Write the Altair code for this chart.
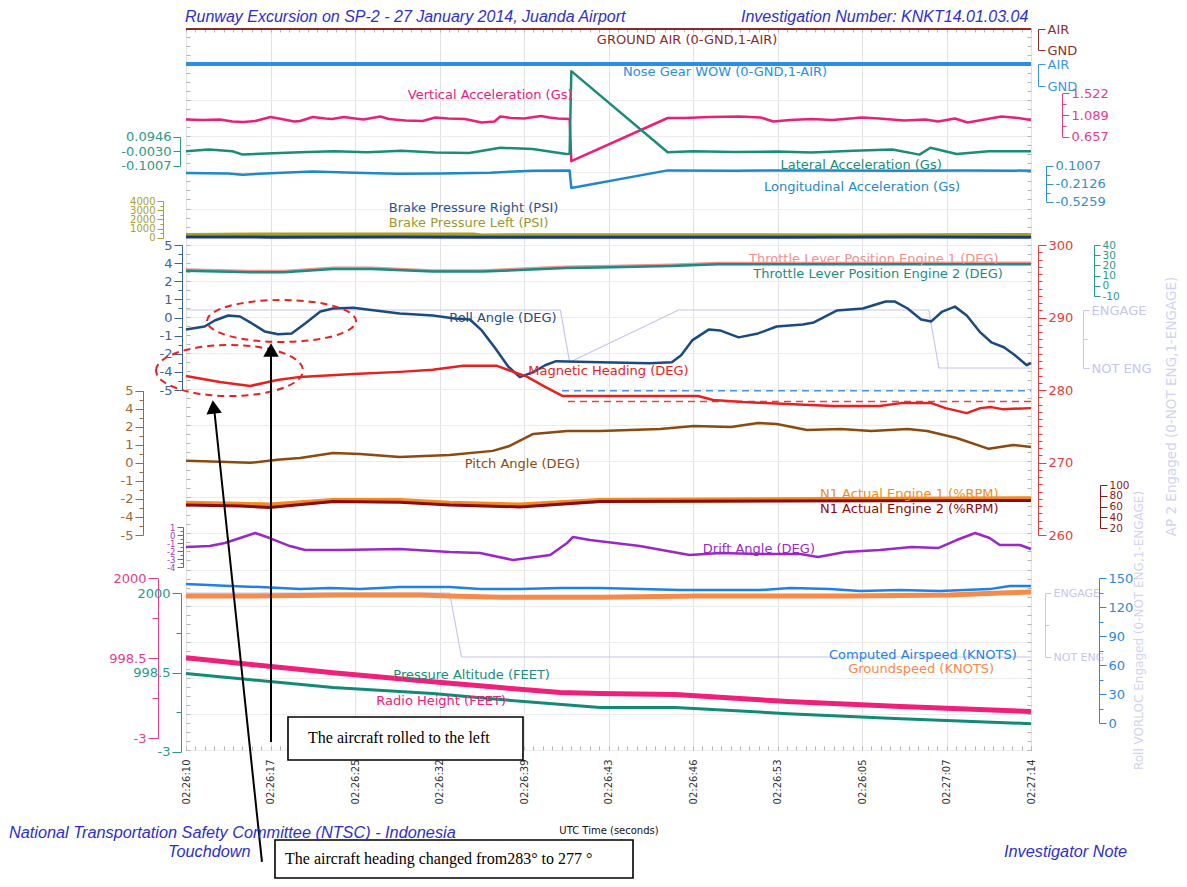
import altair as alt
import pandas as pd

FONT = "DejaVu Sans"
SERIF = "Liberation Serif"
SANS = "Liberation Sans"

# ---------------- data (time in tick-interval units: 0 .. 10) ----------------
time_labels = ["02:26:10", "02:26:17", "02:26:25", "02:26:32", "02:26:39",
               "02:26:43", "02:26:46", "02:26:53", "02:26:05", "02:27:07", "02:27:14"]

ga_t = [0, 10]
ga_v = [1, 1]
wow_t = [0, 10]
wow_v = [1, 1]

va_t = [0, 0.2, 0.4, 0.55, 0.68, 0.82, 1.0, 1.1, 1.28, 1.35, 1.5, 1.65, 1.73, 1.87, 2.0, 2.1, 2.3, 2.4,
        2.6, 2.8, 2.95, 3.1, 3.3, 3.5, 3.65, 3.72, 3.85, 4.0, 4.2, 4.3, 4.4, 4.54, 4.56, 5.70, 5.9, 6.2,
        6.55, 6.8, 6.95, 7.15, 7.4, 7.65, 8.0, 8.2, 8.5, 8.75, 8.9, 9.1, 9.25, 9.45, 9.65, 9.85, 10]
va_v = [1.00, 0.99, 1.00, 0.96, 0.95, 0.97, 1.05, 1.02, 0.96, 0.97, 1.05, 1.02, 1.01, 1.05, 1.02, 1.00,
        1.06, 1.01, 0.98, 0.97, 1.04, 1.02, 1.01, 0.94, 0.96, 1.06, 1.03, 1.02, 1.07, 1.04, 1.02, 1.01,
        0.17, 1.03, 1.03, 1.05, 1.06, 1.04, 0.96, 0.99, 1.01, 0.99, 1.04, 1.02, 0.98, 1.00, 0.96, 1.02,
        0.94, 1.00, 1.06, 1.03, 0.99]

la_t = [0, 0.27, 0.55, 0.67, 0.95, 1.35, 1.75, 2.15, 2.55, 2.95, 3.35, 3.72, 4.1, 4.5, 4.54, 4.56,
        5.70, 6.0, 6.5, 7.0, 7.4, 7.9, 8.36, 8.68, 8.81, 9.12, 9.5, 10]
la_v = [-0.003, 0.009, -0.003, -0.026, -0.018, -0.010, -0.003, -0.010, 0.000, -0.012, -0.015, 0.020,
        0.012, -0.022, -0.020, 0.536, -0.010, -0.003, -0.008, -0.005, -0.012, 0.000, 0.009, -0.026,
        0.020, -0.022, -0.003, -0.003]

lo_t = [0, 0.5, 0.67, 1.0, 1.5, 2.0, 2.5, 3.0, 3.6, 4.1, 4.54, 4.56, 5.70, 6.5, 7.5, 8.5, 9.2, 10]
lo_v = [-0.026, -0.035, -0.056, -0.030, 0.000, -0.020, -0.039, -0.035, -0.020, 0.014, 0.016, -0.287,
        0.019, 0.014, 0.019, 0.012, 0.019, 0.014]

br_t = [0, 1.0, 2.5, 3.5, 5.0, 7.0, 8.5, 10]
br_v = [80, 60, 80, 40, 60, 50, 80, 60]
bl_t = [0, 1.0, 3.4, 3.5, 6.0, 8.0, 9.5, 10]
bl_v = [300, 350, 350, 250, 280, 250, 300, 300]

tl_t = [0, 0.76, 1.16, 1.74, 2.2, 2.92, 3.51, 4.5, 4.89, 5.74, 6.3, 10]
tl1_v = [16.0, 14.5, 14.5, 17.6, 17.6, 15.1, 15.1, 18.6, 19.2, 20.7, 22.4, 22.7]
tl2_v = [14.8, 13.3, 13.3, 16.4, 16.4, 13.9, 13.9, 17.4, 18.0, 19.5, 21.1, 21.1]

roll_t = [0, 0.22, 0.34, 0.50, 0.64, 0.78, 0.93, 1.09, 1.25, 1.41, 1.59, 1.74, 1.98, 2.24, 2.53, 2.92,
          3.18, 3.36, 3.50, 3.66, 3.81, 3.95, 4.11, 4.25, 4.38, 4.90, 5.49, 5.75, 5.86, 5.99, 6.19, 6.32,
          6.54, 6.77, 6.99, 7.30, 7.43, 7.70, 8.01, 8.28, 8.39, 8.54, 8.70, 8.82, 8.95, 9.10, 9.24, 9.40,
          9.53, 9.68, 9.81, 9.95, 10]
roll_v = [-0.82, -0.62, -0.21, 0.14, 0.07, -0.41, -0.96, -1.16, -1.10, -0.41, 0.41, 0.62, 0.68, 0.48,
          0.27, 0.14, -0.07, -0.14, -0.89, -2.12, -3.36, -4.11, -3.77, -3.29, -3.01, -3.08, -3.15, -3.08,
          -2.60, -1.58, -0.82, -0.89, -1.37, -1.10, -0.62, -0.48, -0.34, 0.48, 0.62, 1.10, 1.10, 0.62,
          -0.14, -0.27, 0.41, 0.75, 0.14, -1.03, -1.71, -2.05, -2.60, -3.29, -3.15]

ap2_t = [0, 4.43, 4.54, 5.83, 8.79, 8.91, 10]
ap2_v = [1, 1, 0.1, 1, 1, 0, 0]

hd_t = [0, 0.40, 0.76, 1.08, 1.35, 1.98, 2.53, 2.92, 3.28, 3.68, 4.04, 4.25, 4.46, 4.90, 6.06, 6.24,
        6.59, 6.85, 7.66, 8.21, 8.46, 8.82, 8.99, 9.24, 9.40, 9.53, 9.66, 10]
hd_v = [281.94, 281.11, 280.56, 281.39, 281.81, 282.22, 282.50, 282.78, 283.33, 283.33, 281.81, 280.42,
        279.17, 279.17, 279.17, 278.61, 278.33, 278.19, 277.78, 277.78, 278.19, 278.19, 277.50, 276.81,
        277.50, 277.64, 277.36, 277.50]
hdb_t = [4.45, 10]
hdb_v = [279.9, 279.9]
hdr_t = [4.52, 10]
hdr_v = [278.4, 278.4]

pt_t = [0, 0.40, 0.76, 1.08, 1.35, 1.74, 2.06, 2.53, 3.12, 3.63, 3.83, 4.11, 4.51, 4.90, 5.61, 6.01,
        6.45, 6.77, 6.99, 7.35, 7.75, 8.11, 8.54, 8.77, 9.12, 9.50, 9.79, 10]
pt_v = [0.14, 0.07, 0.00, 0.21, 0.34, 0.69, 0.62, 0.41, 0.55, 0.83, 1.17, 2.00, 2.21, 2.21, 2.34, 2.55,
        2.48, 2.76, 2.69, 2.28, 2.34, 2.21, 2.34, 2.21, 1.72, 0.97, 1.24, 1.10]

n1_t = [0, 0.64, 0.99, 1.74, 2.53, 3.12, 3.95, 4.90, 10]
n1e1_v = [66.0, 64.3, 62.6, 71.1, 71.1, 66.0, 62.6, 71.1, 74.5]
n1e2_v = [62.6, 60.9, 58.3, 69.4, 67.7, 62.6, 59.2, 69.4, 71.1]

dr_t = [0, 0.28, 0.46, 0.64, 0.82, 0.99, 1.23, 1.41, 1.82, 2.53, 3.12, 3.48, 3.87, 4.31, 4.51, 4.58,
        4.78, 5.37, 5.96, 6.32, 6.79, 7.27, 7.48, 7.80, 8.21, 8.59, 8.90, 9.12, 9.34, 9.51, 9.63, 9.87, 10]
dr_v = [-1.50, -1.38, -1.00, -0.38, 0.25, -0.38, -1.38, -1.88, -1.88, -1.75, -2.13, -2.25, -3.13, -2.50,
        -1.00, -0.25, -0.63, -1.38, -2.50, -2.25, -2.38, -2.38, -2.75, -2.13, -1.88, -1.50, -1.63, -0.63,
        0.25, -0.38, -1.25, -1.25, -1.75]

vor_t = [0, 3.12, 3.26, 10]
vor_v = [1, 1, 0, 0]

cas_t = [0, 0.52, 0.88, 1.35, 1.70, 2.06, 2.53, 3.12, 3.48, 3.95, 4.43, 4.90, 5.85, 6.79, 7.15, 7.62,
         7.98, 8.45, 8.92, 9.51, 9.75, 10]
cas_v = [143.8, 141.7, 140.6, 138.5, 139.6, 138.5, 140.6, 140.6, 138.5, 138.5, 139.6, 139.6, 137.5,
         137.5, 139.6, 138.5, 136.5, 137.5, 136.5, 138.5, 141.7, 141.7]
gs_t = [0, 0.76, 1.82, 2.77, 3.12, 3.72, 4.90, 6.08, 7.27, 7.86, 9.04, 9.63, 10]
gs_v = [131.3, 131.3, 132.3, 132.3, 131.3, 130.2, 130.2, 131.3, 131.3, 131.3, 132.3, 134.4, 135.4]

rh_t = [0, 1.74, 2.92, 3.72, 4.43, 4.90, 5.79, 7.12, 8.46, 10]
rh_v = [1004.8, 818.2, 706.2, 631.6, 569.4, 556.9, 544.5, 457.4, 395.2, 333.0]
pa_t = [0, 1.74, 2.92, 3.72, 4.90, 5.79, 7.12, 8.46, 10]
pa_v = [985.6, 808.1, 732.0, 655.9, 554.5, 554.5, 478.4, 415.0, 351.6]

# series labels: text, time, value (in the series' own units)
lab_text = ["GROUND AIR (0-GND,1-AIR)", "Nose Gear WOW (0-GND,1-AIR)", "Vertical Acceleration (Gs)",
            "Lateral Acceleration (Gs)", "Longitudinal Acceleration (Gs)",
            "Throttle Lever Position Engine 1 (DEG)", "Throttle Lever Position Engine 2 (DEG)",
            "Roll Angle (DEG)", "Magnetic Heading (DEG)", "Pitch Angle (DEG)",
            "N1 Actual Engine 1 (%RPM)", "N1 Actual Engine 2 (%RPM)", "Drift Angle (DEG)",
            "Computed Airspeed (KNOTS)", "Groundspeed (KNOTS)", "Pressure Altitude (FEET)",
            "Radio Height (FEET)"]
lab_t = [5.93, 6.38, 3.60, 7.99, 8.0, 8.14, 8.19, 3.75, 5.0, 3.98, 8.56, 8.56, 6.78, 8.72, 8.70, 3.38, 3.02]
lab_v = [0.476, 0.636, 1.488, -0.096, -0.270, 26.3, 11.6, 0.0, 282.6, -0.08, 83.3, 55.3, -1.75,
         70.3, 55.9, 966.9, 464.0]
brake_text = ["Brake Pressure Right (PSI)", "Brake Pressure Left (PSI)"]
brake_t = [2.40, 2.40]
brake_v = [3237, 1602]

# annotations (time units, heading/roll units)
box_t1 = [1.207, 1.053]
box_t2 = [3.988, 5.290]
box_v1 = [234.90, 217.93]
box_v2 = [228.97, 212.69]
note_text = ["The aircraft rolled to the left", "The aircraft heading changed from283\u00b0 to 277 \u00b0"]
note_t = [1.444, 1.172]
note_v = [232.0, 215.3]
arrow_t1 = [0.337, 1.006]
arrow_t2 = [0.899, 1.006]
arrow_v1 = [276.97, 284.69]
arrow_v2 = [214.90, 231.45]
head_t = [0.325, 1.006]
head_v = [277.66, 285.52]
ell_roll_t, ell_roll_v = [1.130], [-0.24]
ell_hd_t, ell_hd_v = [0.515], [282.69]


# ---------------- helpers ----------------
def X(field="t"):
    return alt.X(f"{field}:Q", scale=alt.Scale(domain=[0, 10], nice=False, zero=False), axis=None)


def S(domain, rng):
    return alt.Scale(domain=domain, range=rng, nice=False, zero=False)


def vaxis(orient, offset, values, color, expr, size=13, major=7, minor_test=None, minor=4, **extra):
    kw = dict(orient=orient, offset=offset, values=values, domainColor=color, tickColor=color,
              labelColor=color, labelFont=FONT, labelFontSize=size, labelPadding=2,
              labelOverlap=False, labelFlush=False, labelBound=False, labelExpr=expr,
              grid=False, title=None, domainWidth=1, tickWidth=1, tickSize=major)
    if minor_test is not None:
        kw["tickSize"] = {"condition": {"test": minor_test, "value": major}, "value": minor}
    kw.update(extra)
    return alt.Axis(**kw)


def line(t, v, color, width, scale, axis=None, dash=None):
    props = dict(color=color, strokeWidth=width, clip=False, strokeJoin="round", opacity=1)
    if dash is not None:
        props["strokeDash"] = dash
    return alt.Chart(pd.DataFrame({"t": t, "v": v})).mark_line(**props).encode(
        x=X(), y=alt.Y("v:Q", scale=scale, axis=axis))


def label(txt, t, v, color, scale, size=13, align="center"):
    return alt.Chart(pd.DataFrame({"t": [t], "v": [v], "s": [txt]})).mark_text(
        color=color, font=FONT, fontSize=size, align=align, baseline="middle", clip=False).encode(
        x=X(), y=alt.Y("v:Q", scale=scale, axis=None), text="s:N")


def page_text(txt, px, py, size, color, align="left", baseline="middle"):
    return alt.Chart(pd.DataFrame({"s": [txt]})).mark_text(
        font=SANS, fontSize=size, fontStyle="italic", color=color, align=align,
        baseline=baseline, clip=False).encode(x=alt.value(px - 186), y=alt.value(py - 28), text="s:N")


# ---------------- scales (domain -> pixel band inside the 845x722 plot) ----------------
s_ga = S([0, 1], [22, 1])
s_wow = S([0, 1], [58, 36])
s_va = S([0.657, 1.522], [108.7, 65.3])
s_la = S([-0.1007, 0.0946], [137.7, 108.7])
s_lo = S([-0.5259, 0.1007], [173.7, 137.7])
s_br = S([0, 4000], [209.7, 173])
s_tl = S([-10, 40], [268, 217])
s_roll = S([-5, 5], [362, 217])
s_ap2 = S([0, 1], [340, 282])
s_hd = S([260, 300], [507, 217])
s_pt = S([-5, 5], [507, 362.7])
s_n1 = S([20, 100], [500, 457])
s_dr = S([-4, 1], [539, 499])
s_vor = S([0, 1], [629, 565])
s_cas = S([0, 150], [695, 550])
s_rh = S([-3, 2000], [710.3, 550.3])
s_pa = S([-3, 2000], [723.7, 565.3])

LAV = "#c6c6ee"
roll_vals = [-5 + 0.625 * i for i in range(17)]
roll_major = "abs(datum.value/1.25 - round(datum.value/1.25)) < 0.01"
roll_expr = ("abs(datum.value/1.25 - round(datum.value/1.25)) > 0.01 ? '' : "
             "(datum.value == 2.5 ? '2' : '' + round(datum.value))")
alt_vals = [-3, 497.75, 998.5, 1499.25, 2000]
alt_major = "indexof([-3, 998.5, 2000], datum.value) >= 0"
alt_expr = "indexof([-3, 998.5, 2000], datum.value) >= 0 ? '' + datum.value : ''"

# ---------------- decoration: grid + border ticks + time axis ----------------
one = pd.DataFrame({"t": [0], "v": [0]})
labels_js = "[" + ",".join(f"'{s}'" for s in time_labels) + "]"
grid = alt.Chart(one).mark_point(opacity=0).encode(
    x=alt.X("t:Q", scale=alt.Scale(domain=[0, 10], nice=False, zero=False),
            axis=alt.Axis(values=list(range(11)), labelExpr=labels_js + "[datum.value]", labelAngle=270,
                          labelFont=FONT, labelFontSize=10, labelColor="#333333", labelPadding=9,
                          grid=True, gridColor="#e2e2e2", ticks=False, domain=False,
                          title="UTC Time (seconds)", titleFont=FONT, titleFontSize=10,
                          titleFontWeight="normal", titleColor="#111111", titleY=80,
                          titleBaseline="middle")),
    y=alt.Y("v:Q", scale=alt.Scale(domain=[0, 20], range=[722, 0], nice=False, zero=False),
            axis=alt.Axis(values=list(range(21)), grid=True, gridColor="#ececec", labels=False,
                          ticks=False, domain=False, title=None)))

border1 = alt.Chart(one).mark_point(opacity=0).encode(
    x=alt.X("t:Q", scale=alt.Scale(domain=[0, 90], nice=False, zero=False),
            axis=alt.Axis(orient="top", offset=-722, values=list(range(91)), labels=False, domain=False,
                          tickColor="#b4b4b4", tickSize=4, grid=False, title=None)),
    y=alt.Y("v:Q", scale=alt.Scale(domain=[0, 80], range=[722, 0], nice=False, zero=False),
            axis=alt.Axis(orient="right", offset=-845, values=list(range(81)), labels=False,
                          domain=False, tickColor="#b4b4b4", tickSize=4, grid=False, title=None)))
border2 = alt.Chart(one).mark_point(opacity=0).encode(
    x=alt.X("t:Q", scale=alt.Scale(domain=[0, 90], nice=False, zero=False),
            axis=alt.Axis(orient="bottom", offset=-722, values=list(range(91)), labels=False,
                          domain=False, tickColor="#b4b4b4", tickSize=4, grid=False, title=None)),
    y=alt.Y("v:Q", scale=alt.Scale(domain=[0, 80], range=[722, 0], nice=False, zero=False),
            axis=alt.Axis(orient="left", offset=-845, values=list(range(81)), labels=False,
                          domain=False, tickColor="#b4b4b4", tickSize=4, grid=False, title=None)))

# ---------------- series ----------------
series = [
    line(ga_t, ga_v, "#8b2a2a", 2, s_ga,
         vaxis("right", 7, [0, 1], "#8b3030", "datum.value == 1 ? 'AIR' : 'GND'")),
    line(wow_t, wow_v, "#2a8ee6", 4, s_wow,
         vaxis("right", 7, [0, 1], "#3a96e6", "datum.value == 1 ? 'AIR' : 'GND'")),
    line(va_t, va_v, "#e8207a", 2.5, s_va,
         vaxis("right", 31, [0.657, 0.873, 1.089, 1.3055, 1.522], "#e0408a",
               "indexof([0.657, 1.089, 1.522], datum.value) >= 0 ? format(datum.value, '.3f') : ''",
               minor_test="indexof([0.657, 1.089, 1.522], datum.value) >= 0")),
    line(la_t, la_v, "#1a8c78", 2.5, s_la,
         vaxis("left", 6, [-0.1007, -0.003, 0.0946], "#2a9a88",
               "(datum.value < 0 ? '-' : '') + format(abs(datum.value), '.4f')")),
    line(lo_t, lo_v, "#1e88c8", 2.5, s_lo,
         vaxis("right", 15, [-0.5259, -0.36925, -0.2126, -0.05595, 0.1007], "#3090c8",
               "indexof([-0.5259, -0.2126, 0.1007], datum.value) >= 0 ? "
               "(datum.value < 0 ? '-' : '') + format(abs(datum.value), '.4f') : ''",
               minor_test="indexof([-0.5259, -0.2126, 0.1007], datum.value) >= 0")),
    line(bl_t, bl_v, "#a8a020", 4, s_br,
         vaxis("left", 23, list(range(0, 4001, 500)), "#a8a030",
               "datum.value % 1000 == 0 ? '' + datum.value : ''", size=10, major=6,
               minor_test="datum.value % 1000 == 0", minor=3)),
    line(br_t, br_v, "#1a3a78", 3, s_br),
    line(tl_t, tl1_v, "#f09090", 2.5, s_tl),
    line(tl_t, tl2_v, "#1a8c80", 2.5, s_tl,
         vaxis("right", 63, [-10, 0, 10, 20, 30, 40], "#2a9a88", "'' + datum.value", size=10.5, major=6)),
    line(ap2_t, ap2_v, LAV, 1.2, s_ap2,
         vaxis("right", 52, [0, 0.5, 1], LAV,
               "datum.value == 1 ? 'ENGAGE' : (datum.value == 0 ? 'NOT ENG' : '')",
               minor_test="datum.value != 0.5", major=6, minor=4,
               title="AP 2 Engaged (0-NOT ENG,1-ENGAGE)", titleAngle=270, titleX=88, titleY=378,
               titleAlign="center", titleBaseline="middle", titleColor="#d2d2f2", titleFont=FONT,
               titleFontSize=13.5, titleFontWeight="normal")),
    line(roll_t, roll_v, "#1a4a80", 2.5, s_roll,
         vaxis("left", 4, roll_vals, "#3a62a0", roll_expr, major=8, minor_test=roll_major)),
    line(hdb_t, hdb_v, "#4a90e0", 1.5, s_hd, dash=[7, 5]),
    line(hdr_t, hdr_v, "#e84040", 1.5, s_hd, dash=[7, 5]),
    line(hd_t, hd_v, "#e82020", 2.5, s_hd,
         vaxis("right", 7, list(range(260, 301)), "#e04040",
               "datum.value % 10 == 0 ? '' + datum.value : ''", major=8,
               minor_test="datum.value % 10 == 0")),
    line(pt_t, pt_v, "#8b4a10", 2.5, s_pt,
         vaxis("left", 43, roll_vals, "#9a6a3a", roll_expr, major=8, minor_test=roll_major)),
    line(n1_t, n1e1_v, "#f08c20", 5, s_n1),
    line(n1_t, n1e2_v, "#8b0a0a", 3, s_n1,
         vaxis("right", 69, [20, 40, 60, 80, 100], "#8b1a1a", "'' + datum.value", size=10.5, major=7)),
    line(dr_t, dr_v, "#9a28c8", 2.5, s_dr,
         vaxis("left", 3, [-4 + 0.5 * i for i in range(11)], "#a040c8",
               "datum.value % 1 == 0 ? '' + datum.value : ''", size=8.5, major=6,
               minor_test="datum.value % 1 == 0", minor=3)),
    line(vor_t, vor_v, LAV, 1.2, s_vor,
         vaxis("right", 14, [0, 0.5, 1], LAV,
               "datum.value == 1 ? 'ENGAGE' : (datum.value == 0 ? 'NOT ENG' : '')",
               size=11, minor_test="datum.value != 0.5", major=6, minor=4,
               title="Roll VORLOC Engaged (0-NOT ENG,1-ENGAGE)", titleAngle=270, titleX=93,
               titleY=602, titleAlign="center", titleBaseline="middle", titleColor="#d2d2f2",
               titleFont=FONT, titleFontSize=12, titleFontWeight="normal")),
    line(gs_t, gs_v, "#f58a4a", 5, s_cas),
    line(cas_t, cas_v, "#1e80e8", 2.5, s_cas,
         vaxis("right", 68, list(range(0, 151, 15)), "#2a88e0",
               "datum.value % 30 == 0 ? '' + datum.value : ''", major=7,
               minor_test="datum.value % 30 == 0")),
    line(rh_t, rh_v, "#f0207a", 5, s_rh,
         vaxis("left", 28, alt_vals, "#e0408a", alt_expr, major=10, minor_test=alt_major, minor=6)),
    line(pa_t, pa_v, "#118a78", 3, s_pa,
         vaxis("left", 5, alt_vals, "#2a9a88", alt_expr, major=9, minor_test=alt_major, minor=5)),
]

lab_colors = ["#8b2a2a", "#2a8ee6", "#e8207a", "#1a8c78", "#1e88c8", "#f09090", "#1a8c80", "#2a4a7a",
              "#e82020", "#8b4a10", "#f08c20", "#8b0a0a", "#9a28c8", "#1e80e8", "#f58a4a", "#1a8c78",
              "#f0207a"]
lab_scales = [s_ga, s_wow, s_va, s_la, s_lo, s_tl, s_tl, s_roll, s_hd, s_pt, s_n1, s_n1, s_dr,
              s_cas, s_cas, s_pa, s_rh]
labels = [label(lab_text[i], lab_t[i], lab_v[i], lab_colors[i], lab_scales[i]) for i in range(len(lab_text))]
labels.append(label(brake_text[0], brake_t[0], brake_v[0], "#2a5090", s_br, align="left"))
labels.append(label(brake_text[1], brake_t[1], brake_v[1], "#9a9a30", s_br, align="left"))

# ---------------- annotations ----------------
ann = []
ell1 = "M-1,0A1,0.282,0,1,1,1,0A1,0.282,0,1,1,-1,0Z"
ell2 = "M-1,0A1,0.347,0,1,1,1,0A1,0.347,0,1,1,-1,0Z"
ann.append(alt.Chart(pd.DataFrame({"t": ell_roll_t, "v": ell_roll_v})).mark_point(
    shape=ell1, size=22201, filled=False, stroke="#e82020", strokeWidth=2, strokeDash=[7, 5],
    opacity=1, clip=False).encode(x=X(), y=alt.Y("v:Q", scale=s_roll, axis=None)))
ann.append(alt.Chart(pd.DataFrame({"t": ell_hd_t, "v": ell_hd_v})).mark_point(
    shape=ell2, size=21609, filled=False, stroke="#e82020", strokeWidth=2, strokeDash=[7, 5],
    opacity=1, clip=False).encode(x=X(), y=alt.Y("v:Q", scale=s_hd, axis=None)))
ann.append(alt.Chart(pd.DataFrame({"t1": arrow_t1, "t2": arrow_t2, "v1": arrow_v1, "v2": arrow_v2}))
           .mark_rule(color="black", strokeWidth=2, clip=False).encode(
    x=X("t1"), x2=alt.X2("t2:Q"), y=alt.Y("v1:Q", scale=s_hd, axis=None), y2=alt.Y2("v2:Q")))
ann.append(alt.Chart(pd.DataFrame({"t": [head_t[0]], "v": [head_v[0]]})).mark_point(
    shape="triangle-up", filled=True, color="black", size=240, angle=354, opacity=1, clip=False).encode(
    x=X(), y=alt.Y("v:Q", scale=s_hd, axis=None)))
ann.append(alt.Chart(pd.DataFrame({"t": [head_t[1]], "v": [head_v[1]]})).mark_point(
    shape="triangle-up", filled=True, color="black", size=240, opacity=1, clip=False).encode(
    x=X(), y=alt.Y("v:Q", scale=s_hd, axis=None)))
ann.append(alt.Chart(pd.DataFrame({"t1": box_t1, "t2": box_t2, "v1": box_v1, "v2": box_v2}))
           .mark_rect(fill="white", stroke="black", strokeWidth=1.6, clip=False).encode(
    x=X("t1"), x2=alt.X2("t2:Q"), y=alt.Y("v1:Q", scale=s_hd, axis=None), y2=alt.Y2("v2:Q")))
ann.append(alt.Chart(pd.DataFrame({"t": note_t, "v": note_v, "s": note_text})).mark_text(
    font=SERIF, fontSize=16, color="black", align="left", baseline="middle", clip=False).encode(
    x=X(), y=alt.Y("v:Q", scale=s_hd, axis=None), text="s:N"))

BLUE = "#2e2ecc"
texts = [
    page_text("Runway Excursion on SP-2 - 27 January 2014, Juanda Airport", 185, 9, 16, BLUE,
              baseline="top"),
    page_text("Investigation Number: KNKT14.01.03.04", 741, 9, 16, BLUE, baseline="top"),
    page_text("National Transportation Safety Committee (NTSC) - Indonesia", 9, 833, 16.3, BLUE),
    page_text("Touchdown", 168, 852, 16.3, BLUE),
    page_text("Investigator Note", 1004, 852, 16.3, BLUE),
]

chart = alt.layer(grid, border1, border2, *series, *labels, *ann, *texts).resolve_scale(
    x="independent", y="independent").resolve_axis(x="independent", y="independent").properties(
    width=845, height=722,
    padding={"left": 178, "top": 20, "right": 148, "bottom": 129},
    autosize=alt.AutoSizeParams(type="none"),
    background="white",
).configure_view(stroke="#a8a8a8", strokeWidth=1)

chart.save("out.html", embed_options={"renderer": "svg", "actions": False})
